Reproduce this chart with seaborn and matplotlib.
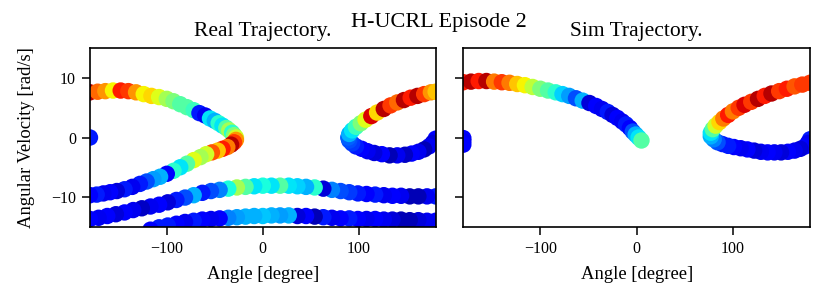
import matplotlib
matplotlib.use("Agg")
import matplotlib.pyplot as plt
import pandas as pd
import seaborn as sns

# ---------------- data ----------------
# Real trajectory, time ordered, split in segments
real_start_angle = [-180]
real_start_vel = [0.0]
real_start_c = [0.15]

real_loop_angle = [180, 177, 173, 168, 162, 155, 148, 140, 132, 124, 116, 109, 103, 97, 93, 90, 89,
                   90, 93, 97, 102, 107, 113, 119, 126, 133, 140, 147, 154, 161, 168, 175, 180]
real_loop_vel = [-0.2, -0.9, -1.5, -2.0, -2.4, -2.7, -2.9, -3.0, -3.0, -2.8, -2.6, -2.3, -1.9, -1.5, -1.0, -0.5, 0.0,
                 0.6, 1.2, 1.8, 2.4, 3.0, 3.6, 4.2, 4.8, 5.4, 5.9, 6.3, 6.7, 7.0, 7.3, 7.6, 7.7]
real_loop_c = [0.12, 0.08, 0.1, 0.05, 0.1, 0.12, 0.06, 0.1, 0.05, 0.12, 0.08, 0.1, 0.12, 0.15, 0.18, 0.2, 0.22,
               0.3, 0.35, 0.42, 0.5, 0.62, 0.92, 0.68, 0.95, 0.85, 0.8, 0.95, 0.88, 0.95, 0.85, 0.75, 0.7]

real_upper_angle = [-180, -172, -164, -156, -148, -140, -132, -124, -116, -108, -100, -93, -86, -79, -72, -66,
                    -60, -55, -50, -46, -42, -38, -35, -32, -30, -28]
real_upper_vel = [7.6, 7.7, 7.8, 7.9, 7.9, 7.8, 7.6, 7.3, 7.0, 6.8, 6.5, 6.1, 5.6, 5.1, 4.6, 4.1,
                  3.7, 3.2, 2.8, 2.4, 2.0, 1.6, 1.2, 0.8, 0.4, 0.0]
real_upper_c = [0.95, 0.8, 0.75, 0.65, 0.88, 0.85, 0.75, 0.65, 0.68, 0.62, 0.55, 0.5, 0.45, 0.45, 0.42, 0.15,
                0.1, 0.35, 0.3, 0.4, 0.35, 0.45, 0.55, 0.4, 0.5, 0.6]

real_lower_angle = [-28, -30, -33, -37, -42, -47, -53, -59, -65, -72, -79, -86, -93, -100, -107, -114, -121,
                    -128, -136, -144, -152, -159, -166, -173, -180]
real_lower_vel = [-0.4, -0.8, -1.2, -1.6, -1.9, -2.2, -2.5, -2.8, -3.3, -3.8, -4.4, -5.0, -5.6, -6.1, -6.6, -7.0,
                  -7.4, -7.8, -8.3, -8.7, -9.0, -9.2, -9.4, -9.6, -9.7]
real_lower_c = [0.75, 0.85, 0.95, 0.78, 0.88, 0.7, 0.82, 0.6, 0.55, 0.62, 0.45, 0.35, 0.4, 0.12, 0.3, 0.28,
                0.2, 0.15, 0.1, 0.15, 0.08, 0.12, 0.1, 0.15, 0.12]

real_band2_angle = [180, 171, 162, 153, 144, 135, 126, 117, 108, 99, 90, 81, 72, 63, 54, 45, 36, 27, 18, 9,
                    0, -9, -18, -27, -36, -45, -54, -63, -72, -81, -90, -99, -108, -117, -126, -135, -144,
                    -153, -162, -171, -180]
real_band2_vel = [-9.9, -9.9, -9.9, -9.9, -9.8, -9.8, -9.7, -9.6, -9.5, -9.4, -9.2, -9.0, -8.8, -8.6, -8.4,
                  -8.3, -8.2, -8.1, -8.1, -8.1, -8.1, -8.2, -8.3, -8.4, -8.6, -8.8, -9.0, -9.3, -9.7, -10.1,
                  -10.5, -10.9, -11.3, -11.6, -11.9, -12.2, -12.6, -12.9, -13.2, -13.5, -13.7]
real_band2_c = [0.15, 0.1, 0.05, 0.05, 0.1, 0.12, 0.1, 0.15, 0.12, 0.15, 0.18, 0.2, 0.25, 0.08, 0.4, 0.3,
                0.33, 0.35, 0.45, 0.35, 0.38, 0.35, 0.45, 0.55, 0.38, 0.25, 0.2, 0.15, 0.3, 0.2, 0.15, 0.08,
                0.12, 0.1, 0.06, 0.1, 0.12, 0.08, 0.12, 0.1, 0.12]

real_band3_angle = [180, 171, 162, 153, 144, 135, 126, 117, 108, 99, 90, 81, 72, 63, 54, 45, 36, 27, 18, 9,
                    0, -9, -18, -27, -36, -45, -54, -63, -72, -81, -90, -99, -108, -117]
real_band3_vel = [-14.0, -14.0, -13.9, -13.9, -13.8, -13.8, -13.8, -13.7, -13.7, -13.7, -13.6, -13.6, -13.5,
                  -13.4, -13.3, -13.2, -13.2, -13.1, -13.1, -13.1, -13.2, -13.2, -13.3, -13.4, -13.5, -13.6,
                  -13.7, -13.8, -14.0, -14.2, -14.5, -14.8, -15.1, -15.5]
real_band3_c = [0.12, 0.1, 0.08, 0.05, 0.05, 0.08, 0.1, 0.12, 0.1, 0.12, 0.15, 0.12, 0.1, 0.15, 0.05, 0.12,
                0.08, 0.3, 0.28, 0.3, 0.32, 0.3, 0.3, 0.28, 0.25, 0.12, 0.1, 0.12, 0.15, 0.1, 0.12, 0.15,
                0.15, 0.12]

# Sim trajectory
sim_start_angle = [-180, -180, -180]
sim_start_vel = [-0.1, -0.6, -1.2]
sim_start_c = [0.12, 0.1, 0.12]

sim_loop_angle = [180, 178, 175, 170, 164, 157, 150, 143, 136, 129, 122, 115, 108, 101, 95, 89, 84, 80, 77,
                  77, 79, 82, 86, 90, 95, 100, 106, 112, 119, 126, 133, 140, 148, 156, 164, 172, 180]
sim_loop_vel = [-0.3, -0.9, -1.5, -1.9, -2.2, -2.4, -2.5, -2.5, -2.5, -2.4, -2.2, -2.0, -1.8, -1.6, -1.4,
                -1.1, -0.8, -0.3, 0.2,
                0.8, 1.4, 2.0, 2.6, 3.2, 3.8, 4.4, 5.0, 5.5, 6.0, 6.5, 7.0, 7.4, 7.8, 8.2, 8.6, 8.9, 9.2]
sim_loop_c = [0.15, 0.1, 0.12, 0.08, 0.1, 0.12, 0.08, 0.1, 0.12, 0.1, 0.08, 0.12, 0.1, 0.12, 0.15, 0.15,
              0.2, 0.25, 0.3,
              0.35, 0.45, 0.6, 0.68, 0.78, 0.88, 0.78, 0.85, 0.92, 0.85, 0.95, 0.88, 0.95, 0.85, 0.88,
              0.82, 0.85, 0.85]

sim_upper_angle = [-180, -172, -164, -156, -148, -140, -132, -124, -116, -108, -100, -92, -84, -77, -70,
                   -63, -56, -49, -42, -36, -30, -25, -20, -15, -11, -7, -4, -1, 2, 5]
sim_upper_vel = [9.3, 9.4, 9.5, 9.5, 9.4, 9.3, 9.2, 9.0, 8.8, 8.5, 8.2, 7.9, 7.6, 7.3, 7.0, 6.6, 6.2, 5.8,
                 5.3, 4.8, 4.3, 3.8, 3.3, 2.7, 2.2, 1.6, 1.0, 0.5, 0.0, -0.5]
sim_upper_c = [0.88, 0.95, 0.88, 0.95, 0.78, 0.85, 0.78, 0.7, 0.65, 0.58, 0.5, 0.45, 0.4, 0.33, 0.28, 0.2,
               0.3, 0.08, 0.12, 0.1, 0.15, 0.08, 0.12, 0.1, 0.15, 0.12, 0.2, 0.3, 0.35, 0.45]

x_ticks = [-100, 0, 100]
y_ticks = [-10, 0, 10]

# ---------------- build tables ----------------
real_df = pd.DataFrame({
    "angle": real_start_angle + real_loop_angle + real_upper_angle + real_lower_angle
             + real_band2_angle + real_band3_angle,
    "vel": real_start_vel + real_loop_vel + real_upper_vel + real_lower_vel
           + real_band2_vel + real_band3_vel,
    "c": real_start_c + real_loop_c + real_upper_c + real_lower_c + real_band2_c + real_band3_c,
})
sim_df = pd.DataFrame({
    "angle": sim_start_angle + sim_loop_angle + sim_upper_angle,
    "vel": sim_start_vel + sim_loop_vel + sim_upper_vel,
    "c": sim_start_c + sim_loop_c + sim_upper_c,
})

# ---------------- style ----------------
plt.rcParams.update({
    "font.family": "serif",
    "font.serif": ["Liberation Serif", "DejaVu Serif"],
    "axes.linewidth": 1.2,
    "xtick.major.size": 5.5,
    "ytick.major.size": 5.5,
    "xtick.major.width": 1.1,
    "ytick.major.width": 1.1,
    "xtick.major.pad": 4.5,
    "ytick.major.pad": 4.5,
    "xtick.labelsize": 11.5,
    "ytick.labelsize": 11.5,
})

jet = matplotlib.colormaps["jet"]

fig = plt.figure(figsize=(8.3, 3.02), dpi=100)
ax1 = fig.add_axes([0.1084, 0.2493, 0.4165, 0.5907])
ax2 = fig.add_axes([0.5582, 0.2493, 0.4177, 0.5907], sharey=ax1)

for ax, df, title in [(ax1, real_df, "Real Trajectory."), (ax2, sim_df, "Sim Trajectory.")]:
    sns.scatterplot(data=df, x="angle", y="vel", hue="c", palette=jet, hue_norm=(0, 1),
                    s=140, linewidth=0, edgecolor="none", legend=False, ax=ax)
    ax.set_xlim(-180, 180)
    ax.set_ylim(-15, 15)
    ax.set_xticks(x_ticks)
    ax.set_yticks(y_ticks)
    ax.set_title(title, fontsize=15.5, pad=9)
    ax.set_xlabel("Angle [degree]", fontsize=13.4, labelpad=7)

ax1.set_ylabel("Angular Velocity [rad/s]", fontsize=13.4)
ax1.yaxis.set_label_coords(-0.159, 0.5)
ax2.set_ylabel("")
ax2.tick_params(axis="y", labelleft=False)

fig.text(0.529, 1 - 26.5 / 302, "H-UCRL Episode 2", ha="center", va="baseline", fontsize=16)

fig.savefig("out.png", dpi=100)
